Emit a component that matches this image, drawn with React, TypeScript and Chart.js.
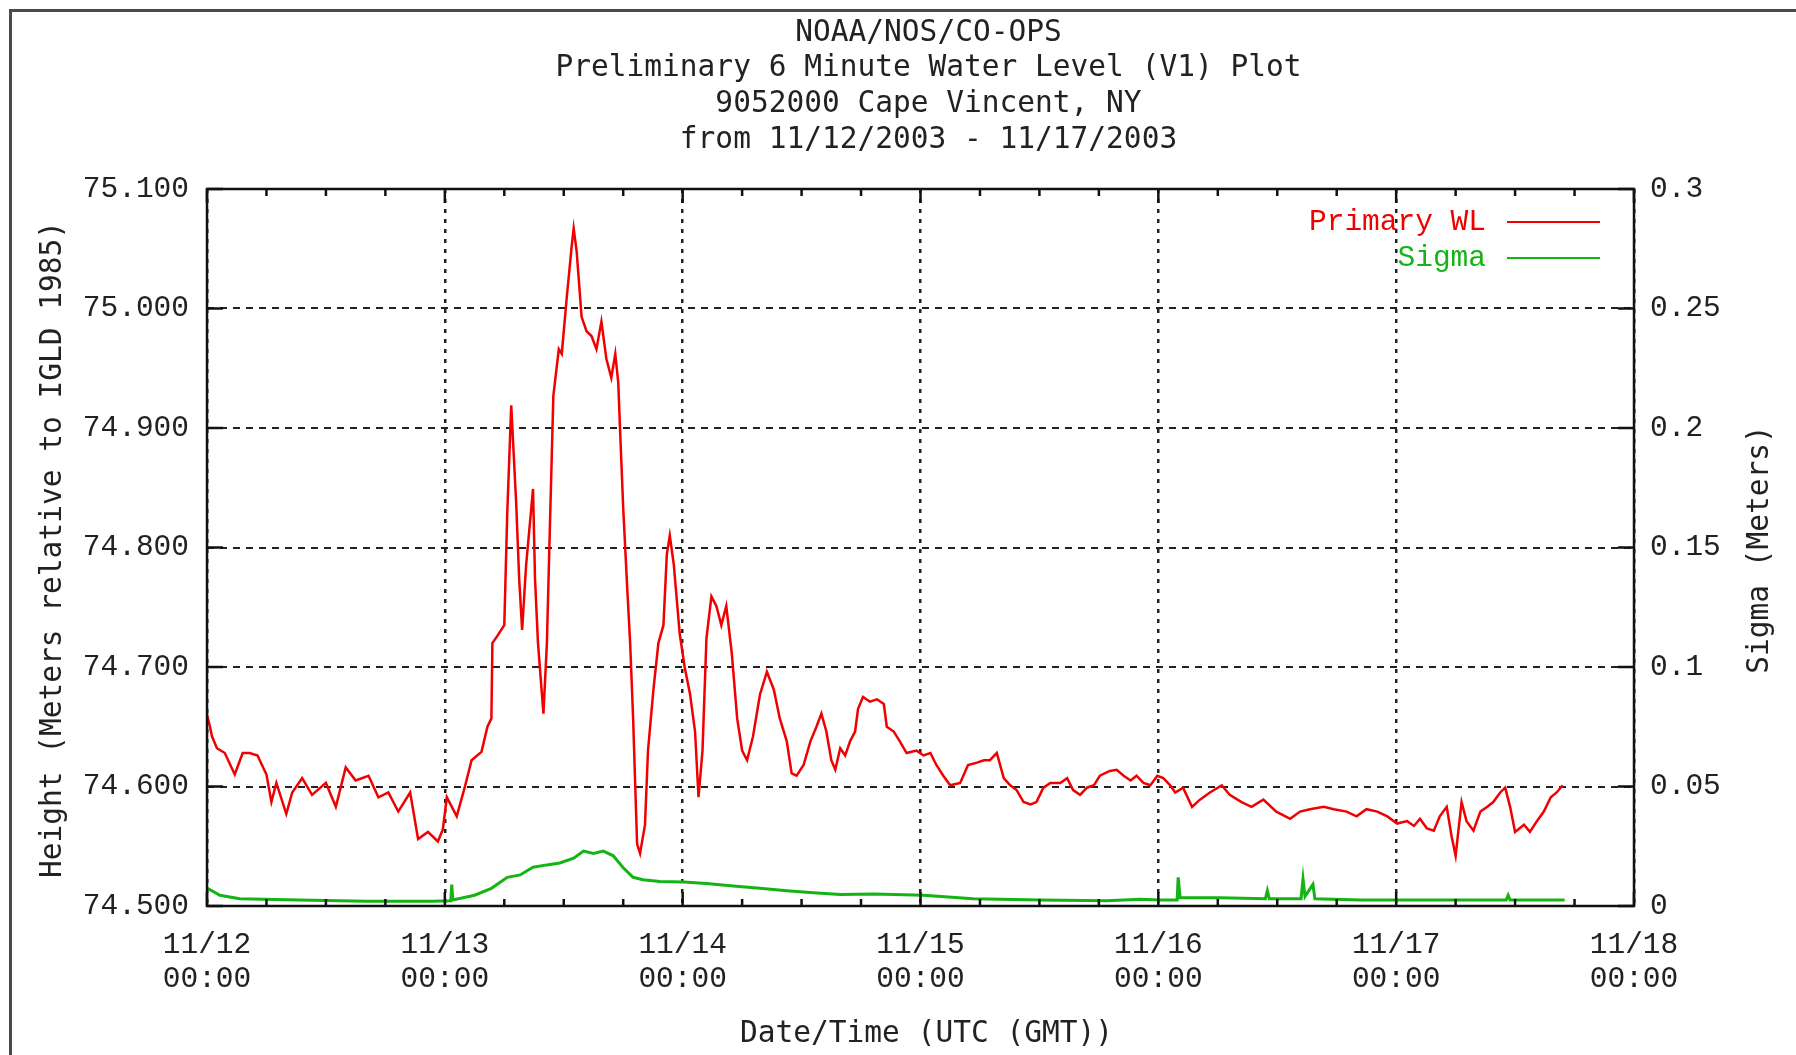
import React, { useEffect, useRef } from 'react';
import { Chart, registerables } from 'chart.js';

Chart.register(...registerables);

const titleLines = [
  'NOAA/NOS/CO-OPS',
  'Preliminary 6 Minute Water Level (V1) Plot',
  '9052000 Cape Vincent, NY',
  'from 11/12/2003 - 11/17/2003',
];
const xAxisTitle = 'Date/Time (UTC (GMT))';
const yAxisTitle = 'Height (Meters relative to IGLD 1985)';
const y2AxisTitle = 'Sigma (Meters)';
const xTickDates = ['11/12', '11/13', '11/14', '11/15', '11/16', '11/17', '11/18'];
const xTickTime = '00:00';
const seriesNames = ['Primary WL', 'Sigma'];

// hours since 11/12/2003 00:00 UTC
const wlHours = [
  0.0, 0.3, 0.5, 1.0, 1.8, 2.8, 3.6, 4.3, 5.1, 6.0, 6.5, 7.0, 8.0, 8.6, 9.6, 10.6, 12.0, 13.0, 14.0, 15.0,
  16.3, 17.3, 18.3, 19.3, 20.5, 21.3, 22.3, 23.3, 23.8, 24.2, 25.2, 26.0, 26.7, 27.7, 28.3, 28.7, 28.8, 29.3,
  30.0, 30.3, 30.7, 31.2, 31.5, 31.8, 32.2, 32.9, 33.1, 33.4, 33.95, 34.3, 34.6, 34.95, 35.5, 35.8, 36.3, 36.8,
  37.0, 37.3, 37.8, 38.3, 38.8, 39.3, 39.8, 40.3, 40.8, 41.2, 41.5, 41.7, 42.0, 42.4, 42.7, 43.0, 43.4, 43.7,
  44.2, 44.5, 45.05, 45.55, 46.06, 46.4, 46.7, 47.1, 47.7, 48.2, 48.75, 49.25, 49.6, 50.0, 50.4, 50.9, 51.4,
  51.9, 52.4, 52.95, 53.5, 54.0, 54.5, 55.1, 55.8, 56.5, 57.2, 57.8, 58.5, 59.0, 59.5, 60.2, 60.9, 61.5, 62.0,
  62.5, 63.0, 63.4, 63.9, 64.4, 64.9, 65.4, 65.7, 66.2, 66.9, 67.6, 68.3, 68.6, 69.3, 69.9, 70.6, 71.6, 72.3,
  73.0, 73.6, 74.3, 75.0, 76.0, 76.8, 77.7, 78.4, 79.0, 79.7, 80.4, 81.05, 81.7, 82.4, 83.1, 83.7, 84.4, 85.1,
  86.1, 86.8, 87.4, 88.1, 88.8, 89.5, 90.1, 91.1, 91.8, 92.5, 93.2, 93.8, 94.5, 95.2, 95.9, 96.5, 97.2, 97.7,
  98.5, 99.4, 100.2, 101.2, 102.4, 103.2, 104.4, 105.4, 106.6, 107.9, 109.3, 110.3, 111.3, 112.7, 113.7, 115.0,
  116.0, 117.0, 118.1, 119.1, 120.1, 121.1, 121.8, 122.4, 123.1, 123.8, 124.4, 125.1, 125.6, 126.0, 126.6,
  127.1, 127.8, 128.5, 129.2, 129.8, 130.5, 131.0, 131.5, 132.0, 132.9, 133.5, 134.2, 134.9, 135.6, 136.2, 136.8,
];
const wlValues = [
  74.660, 74.650, 74.642, 74.632, 74.628, 74.610, 74.628, 74.628, 74.626, 74.610, 74.587, 74.603, 74.577, 74.595,
  74.607, 74.593, 74.603, 74.583, 74.616, 74.605, 74.609, 74.591, 74.595, 74.579, 74.595, 74.556, 74.562, 74.554,
  74.564, 74.591, 74.575, 74.599, 74.622, 74.629, 74.650, 74.657, 74.720, 74.726, 74.735, 74.829, 74.919, 74.837,
  74.774, 74.731, 74.785, 74.849, 74.774, 74.720, 74.661, 74.720, 74.817, 74.927, 74.966, 74.962, 75.009, 75.052,
  75.067, 75.048, 74.993, 74.981, 74.977, 74.966, 74.989, 74.958, 74.942, 74.962, 74.938, 74.895, 74.833, 74.767,
  74.720, 74.657, 74.552, 74.544, 74.568, 74.630, 74.681, 74.720, 74.735, 74.794, 74.810, 74.786, 74.728, 74.700,
  74.677, 74.646, 74.591, 74.630, 74.724, 74.759, 74.751, 74.735, 74.751, 74.712, 74.657, 74.630, 74.622, 74.642,
  74.677, 74.696, 74.681, 74.657, 74.638, 74.611, 74.609, 74.618, 74.638, 74.650, 74.661, 74.646, 74.622, 74.614,
  74.632, 74.626, 74.638, 74.646, 74.665, 74.675, 74.671, 74.673, 74.669, 74.650, 74.646, 74.638, 74.628, 74.630,
  74.626, 74.628, 74.618, 74.609, 74.601, 74.603, 74.618, 74.620, 74.622, 74.622, 74.628, 74.607, 74.601, 74.597,
  74.587, 74.585, 74.587, 74.599, 74.603, 74.603, 74.607, 74.597, 74.593, 74.599, 74.601, 74.609, 74.613, 74.614,
  74.609, 74.605, 74.609, 74.603, 74.601, 74.609, 74.607, 74.601, 74.595, 74.599, 74.583, 74.589, 74.595, 74.601,
  74.593, 74.587, 74.583, 74.589, 74.579, 74.573, 74.579, 74.581, 74.583, 74.581, 74.579, 74.575, 74.581, 74.579,
  74.575, 74.569, 74.571, 74.567, 74.573, 74.565, 74.563, 74.575, 74.583, 74.558, 74.542, 74.587, 74.571, 74.563,
  74.579, 74.583, 74.587, 74.595, 74.599, 74.583, 74.562, 74.568, 74.562, 74.571, 74.579, 74.591, 74.595, 74.601,
];

const sigmaHours = [
  0.0, 1.3, 3.3, 9.3, 16.0, 22.7, 24.6, 24.7, 24.8, 27.0, 28.7, 30.3, 31.6, 32.9, 34.3, 35.6, 37.0, 38.0, 39.0,
  40.0, 41.0, 42.0, 43.0, 44.0, 45.7, 48.1, 50.4, 53.1, 55.8, 58.5, 61.2, 63.9, 67.3, 72.3, 77.3, 84.1, 90.8,
  94.2, 96.2, 97.9, 98.0, 98.2, 102.2, 106.8, 107.0, 107.2, 110.4, 110.6, 110.8, 111.6, 111.8, 116.4, 123.1,
  131.1, 131.3, 131.5, 137.0,
];
const sigmaValues = [
  0.0075, 0.0045, 0.003, 0.0025, 0.002, 0.002, 0.0022, 0.009, 0.0025, 0.0045, 0.0074, 0.012, 0.013, 0.0162,
  0.0172, 0.018, 0.02, 0.023, 0.022, 0.023, 0.021, 0.016, 0.012, 0.011, 0.0103, 0.01, 0.0094, 0.0084, 0.0074,
  0.0064, 0.0055, 0.0048, 0.005, 0.0045, 0.003, 0.0025, 0.0022, 0.0028, 0.0025, 0.0025, 0.012, 0.0035, 0.0035,
  0.003, 0.0064, 0.003, 0.003, 0.0113, 0.004, 0.009, 0.003, 0.0025, 0.0025, 0.0025, 0.0045, 0.0025, 0.0025,
];

const RED = 'rgb(240,0,0)';
const GREEN = 'rgb(20,180,20)';
const INK = '#222';
const TITLE_FONT = '29.5px "DejaVu Sans Mono"';
const TICK_FAMILY = '"Liberation Mono"';

const decor = {
  id: 'decor',
  beforeDraw(chart: any) {
    const { ctx, width, height } = chart;
    ctx.save();
    ctx.fillStyle = '#fff';
    ctx.fillRect(0, 0, width, height);
    ctx.strokeStyle = '#4a4a4a';
    ctx.lineWidth = 3;
    ctx.beginPath();
    ctx.moveTo(10.5, height);
    ctx.lineTo(10.5, 10.5);
    ctx.lineTo(width, 10.5);
    ctx.stroke();
    ctx.restore();
  },
  afterDatasetsDraw(chart: any) {
    const { ctx, chartArea: a, scales } = chart;
    ctx.save();
    ctx.strokeStyle = '#111';
    ctx.lineWidth = 2.5;
    ctx.strokeRect(a.left, a.top, a.right - a.left, a.bottom - a.top);
    ctx.beginPath();
    scales.y.ticks.forEach((t: any) => {
      const py = scales.y.getPixelForValue(t.value);
      ctx.moveTo(a.left, py);
      ctx.lineTo(a.left + 16, py);
    });
    scales.y2.ticks.forEach((t: any) => {
      const py = scales.y2.getPixelForValue(t.value);
      ctx.moveTo(a.right, py);
      ctx.lineTo(a.right - 16, py);
    });
    const xs = scales.x;
    for (let h = xs.min; h <= xs.max + 0.001; h += 6) {
      const px = xs.getPixelForValue(h);
      const len = Math.abs(h % 24) < 0.001 ? 14 : 7;
      ctx.moveTo(px, a.bottom);
      ctx.lineTo(px, a.bottom - len);
      ctx.moveTo(px, a.top);
      ctx.lineTo(px, a.top + len);
    }
    ctx.stroke();
    ctx.restore();
  },
  afterDraw(chart: any) {
    const { ctx, chartArea: a } = chart;
    const cx = (a.left + a.right) / 2 + 6;
    const cy = (a.top + a.bottom) / 2 + 2;
    ctx.save();
    ctx.fillStyle = INK;
    ctx.font = TITLE_FONT;
    ctx.textAlign = 'center';
    ctx.textBaseline = 'middle';
    titleLines.forEach((line, i) => ctx.fillText(line, cx + 2, 33 + i * 35.8));
    ctx.fillText(xAxisTitle, cx, 1034);
    ctx.save();
    ctx.translate(53, cy);
    ctx.rotate(-Math.PI / 2);
    ctx.fillText(yAxisTitle, 0, 0);
    ctx.restore();
    ctx.save();
    ctx.translate(1760, cy);
    ctx.rotate(-Math.PI / 2);
    ctx.fillText(y2AxisTitle, 0, 0);
    ctx.restore();

    // legend (gnuplot style: text right-aligned, sample line to the right)
    ctx.font = '29.5px ' + TICK_FAMILY;
    ctx.textAlign = 'right';
    const colors = [RED, GREEN];
    seriesNames.forEach((name, i) => {
      const ly = a.top + 33 + i * 36;
      ctx.fillStyle = colors[i];
      ctx.fillText(name, a.right - 148, ly);
      ctx.strokeStyle = colors[i];
      ctx.lineWidth = 2;
      ctx.beginPath();
      ctx.moveTo(a.right - 127, ly);
      ctx.lineTo(a.right - 34, ly);
      ctx.stroke();
    });
    ctx.restore();
  },
};

export default function App() {
  const ref = useRef<HTMLCanvasElement>(null);

  useEffect(() => {
    const canvas = ref.current;
    if (!canvas) return;
    const tickFont = { family: TICK_FAMILY, size: 29.5, lineHeight: 1.15 };
    const chart = new Chart(canvas, {
      type: 'line',
      data: {
        datasets: [
          {
            label: seriesNames[0],
            data: wlHours.map((h, i) => ({ x: h, y: wlValues[i] })),
            borderColor: RED,
            backgroundColor: RED,
            borderWidth: 2.5,
            pointRadius: 0,
            tension: 0,
            yAxisID: 'y',
          },
          {
            label: seriesNames[1],
            data: sigmaHours.map((h, i) => ({ x: h, y: sigmaValues[i] })),
            borderColor: GREEN,
            backgroundColor: GREEN,
            borderWidth: 3,
            pointRadius: 0,
            tension: 0,
            yAxisID: 'y2',
          },
        ],
      },
      options: {
        responsive: false,
        animation: false,
        devicePixelRatio: 1,
        layout: { padding: { top: 189, left: 0, right: 0, bottom: 0 } },
        plugins: {
          legend: { display: false },
          title: { display: false },
          tooltip: { enabled: false },
        },
        scales: {
          x: {
            type: 'linear',
            min: 0,
            max: 144,
            afterFit: (s: any) => {
              s.height = 149;
            },
            border: { display: false, dash: [4, 6] },
            grid: { color: INK, lineWidth: 2.5, drawTicks: false },
            ticks: {
              stepSize: 24,
              autoSkip: false,
              maxRotation: 0,
              padding: 22,
              color: INK,
              font: tickFont,
              callback: (v: any) => {
                const i = Math.round(Number(v) / 24);
                return [xTickDates[i], xTickTime];
              },
            },
          },
          y: {
            type: 'linear',
            position: 'left',
            min: 74.5,
            max: 75.1,
            afterFit: (s: any) => {
              s.width = 207;
            },
            border: { display: false, dash: [7, 6] },
            grid: { color: INK, lineWidth: 2, drawTicks: false },
            ticks: {
              stepSize: 0.1,
              padding: 18,
              color: INK,
              font: tickFont,
              callback: (v: any) => Number(v).toFixed(3),
            },
          },
          y2: {
            type: 'linear',
            position: 'right',
            min: 0,
            max: 0.3,
            afterFit: (s: any) => {
              s.width = 162;
            },
            border: { display: false },
            grid: { display: false, drawTicks: false },
            ticks: {
              stepSize: 0.05,
              padding: 16,
              color: INK,
              font: tickFont,
              callback: (v: any) => String(Math.round(Number(v) * 100) / 100),
            },
          },
        },
      },
      plugins: [decor],
    } as any);
    return () => chart.destroy();
  }, []);

  return (
    <div style={{ position: 'fixed', left: 0, top: 0, width: 1796, height: 1055, background: '#fff' }}>
      <canvas ref={ref} width={1796} height={1055} style={{ display: 'block', width: 1796, height: 1055 }} />
    </div>
  );
}
